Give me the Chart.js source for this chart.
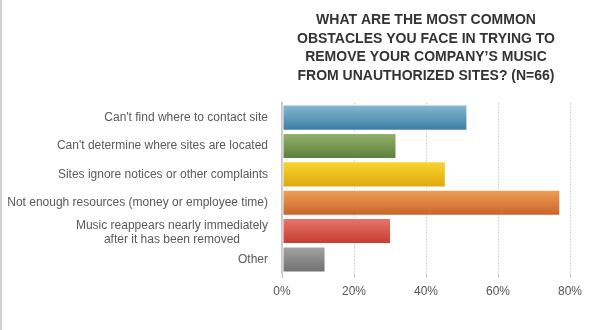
<!DOCTYPE html>
<html>
<head>
<meta charset="utf-8">
<script src="https://cdn.jsdelivr.net/npm/chart.js@4.4.0/dist/chart.umd.min.js"></script>
<style>
  html, body { margin: 0; padding: 0; background: #fff; }
  #wrap { width: 592px; height: 330px; border-left: 2px solid #d0d0d0; }
</style>
</head>
<body>
<div id="wrap"><canvas id="obstaclesChart" width="592" height="330"></canvas></div>
<script>
const titleLines = [
    'WHAT ARE THE MOST COMMON',
    'OBSTACLES YOU FACE IN TRYING TO',
    'REMOVE YOUR COMPANY\u2019S MUSIC',
    'FROM UNAUTHORIZED SITES? (N=66)'
];
const categories = [
    ["Can't find where to contact site"],
    ["Can't determine where sites are located"],
    ['Sites ignore notices or other complaints'],
    ['Not enough resources (money or employee time)'],
    ['Music reappears nearly immediately', 'after it has been removed'],
    ['Other']
];
const percentValues = [51.5, 31.8, 45.5, 77.3, 30.3, 12.1];
const tickValues = [0, 20, 40, 60, 80];
const tickLabels = ['0%', '20%', '40%', '60%', '80%'];

// top / bottom colours of each bar gradient
const barTops = ['#86bad1', '#94b26e', '#fad52f', '#f0a156', '#e8766e', '#a4a4a4'];
const barBottoms = ['#3b7ca3', '#5a7f3a', '#dea70e', '#c8622a', '#c53b2f', '#6f6f6f'];

const fontFamily = '"Liberation Sans", Arial, Helvetica, sans-serif';

function barGradient(context) {
    const chart = context.chart;
    const i = context.dataIndex;
    if (!chart.chartArea || !chart.scales.y) return barBottoms[i];
    const yc = chart.scales.y.getPixelForValue(i);
    const g = chart.ctx.createLinearGradient(0, yc - 13, 0, yc + 13);
    g.addColorStop(0, barTops[i]);
    g.addColorStop(1, barBottoms[i]);
    return g;
}

// draws the category labels: block right aligned, lines centred inside the block
const categoryLabels = {
    id: 'categoryLabels',
    afterDraw(chart) {
        const ctx = chart.ctx;
        const yScale = chart.scales.y;
        ctx.save();
        ctx.font = '12px ' + fontFamily;
        ctx.fillStyle = '#5a5a5a';
        ctx.textAlign = 'center';
        ctx.textBaseline = 'middle';
        categories.forEach((lines, i) => {
            const w = Math.max(...lines.map(l => ctx.measureText(l).width));
            const cx = chart.chartArea.left - 14 - w / 2;
            const cy = yScale.getPixelForValue(i) + (lines.length > 1 ? 1.5 : 0);
            lines.forEach((l, j) => {
                ctx.fillText(l, cx, cy + (j - (lines.length - 1) / 2) * 14);
            });
        });
        ctx.restore();
    }
};

const ctx = document.getElementById('obstaclesChart').getContext('2d');
const obstaclesChart = new Chart(ctx, {
    type: 'bar',
    data: {
        labels: categories.map(c => c.join(' ')),
        datasets: [{
            data: percentValues,
            backgroundColor: barGradient,
            borderColor: 'rgba(255,255,255,0.75)',
            borderWidth: 1,
            borderSkipped: false,
            categoryPercentage: 1,
            barPercentage: 0.92
        }]
    },
    options: {
        indexAxis: 'y',
        responsive: false,
        animation: false,
        layout: { padding: { left: 0, right: 24, top: 0, bottom: 24 } },
        plugins: {
            legend: { display: false },
            tooltip: { enabled: false },
            title: {
                display: true,
                fullSize: false,
                text: titleLines,
                color: '#333333',
                font: { family: fontFamily, size: 14, weight: 'bold', lineHeight: 1.33 },
                padding: { top: 11, bottom: 18 }
            }
        },
        scales: {
            x: {
                min: 0,
                max: 80,
                afterBuildTicks: (scale) => {
                    scale.ticks = tickValues.map(v => ({ value: v }));
                },
                ticks: {
                    color: '#555555',
                    font: { family: fontFamily, size: 12 },
                    padding: 7,
                    maxRotation: 0,
                    callback: (v) => tickLabels[tickValues.indexOf(v)]
                },
                grid: {
                    color: (c) => c.tick && c.tick.value === 0 ? 'rgba(0,0,0,0)' : '#aaaaaa',
                    lineWidth: 1,
                    drawTicks: true,
                    tickLength: 4,
                    tickColor: '#bbbbbb'
                },
                border: { display: false, dash: [1, 2] }
            },
            y: {
                afterFit: (scale) => { scale.width = 280; },
                ticks: { display: false },
                grid: { display: false },
                border: { display: true, color: '#c8c8c8', width: 2 }
            }
        }
    },
    plugins: [categoryLabels]
});
</script>
</body>
</html>
